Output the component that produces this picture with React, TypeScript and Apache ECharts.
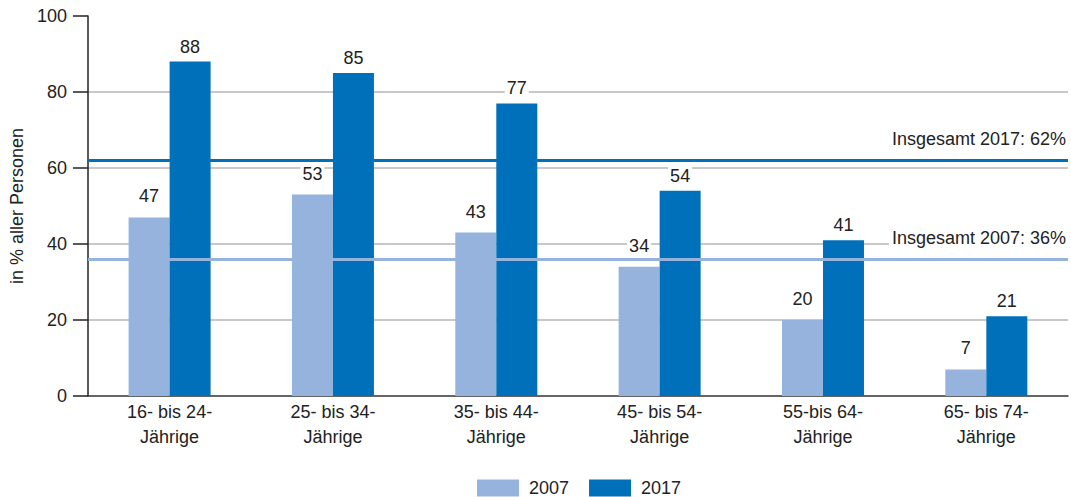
import React, { useEffect, useRef } from "react";
import * as echarts from "echarts";

const categories = [
  "16- bis 24-\nJährige",
  "25- bis 34-\nJährige",
  "35- bis 44-\nJährige",
  "45- bis 54-\nJährige",
  "55-bis 64-\nJährige",
  "65- bis 74-\nJährige",
];
const values2007 = [47, 53, 43, 34, 20, 7];
const values2017 = [88, 85, 77, 54, 41, 21];
const total2007 = 36;
const total2017 = 62;

const LIGHT = "#95b3dc";
const DARK = "#0070ba";
const TEXT = "#222";
const FONT = "'Liberation Sans', Arial, Helvetica, sans-serif";

export default function App() {
  const ref = useRef<HTMLDivElement>(null);
  useEffect(() => {
    if (!ref.current) return;
    const chart = echarts.init(ref.current, null, { renderer: "svg" });
    const refLabel = (text: string) => ({
      show: true,
      position: "insideEndTop",
      formatter: text,
      fontSize: 18,
      color: TEXT,
      fontFamily: FONT,
      backgroundColor: "#fff",
      padding: [1, 2, 1, 3],
      distance: [0, 11],
    });
    chart.setOption({
      animation: false,
      textStyle: { fontFamily: FONT, color: TEXT },
      grid: { left: 85, right: 3, top: 16, bottom: 101, containLabel: false },
      legend: {
        data: ["2007", "2017"],
        top: 479,
        left: 477,
        padding: 0,
        itemWidth: 42,
        itemHeight: 17,
        itemGap: 20,
        icon: "rect",
        textStyle: { fontSize: 18, color: TEXT, fontFamily: FONT, padding: [0, 0, 0, 5] },
      },
      xAxis: {
        type: "category",
        data: categories,
        axisLine: { show: true, lineStyle: { color: "#333", width: 1.5 } },
        axisTick: { show: false },
        axisLabel: { fontSize: 18, color: TEXT, lineHeight: 25, margin: 3, interval: 0 },
      },
      yAxis: {
        type: "value",
        min: 0,
        max: 100,
        interval: 20,
        name: "in % aller Personen",
        nameLocation: "middle",
        nameGap: 58,
        nameTextStyle: { fontSize: 18, color: TEXT },
        axisLine: { show: true, lineStyle: { color: "#222", width: 1.5 } },
        axisTick: { show: true, length: 15, lineStyle: { color: "#222", width: 1.5 } },
        axisLabel: { fontSize: 18, color: TEXT, margin: 21 },
        splitLine: {
          show: true,
          showMinLine: false,
          showMaxLine: false,
          lineStyle: { color: "#c8c8c8", width: 2 },
        },
      },
      series: [
        {
          name: "2007",
          type: "bar",
          data: values2007,
          barWidth: 41,
          barGap: "0%",
          itemStyle: { color: LIGHT },
          label: {
            show: true,
            position: "top",
            distance: 12,
            fontSize: 18,
            color: TEXT,
            backgroundColor: "#fff",
            padding: [0, 2],
          },
        },
        {
          name: "2017",
          type: "bar",
          data: values2017,
          barWidth: 41,
          barGap: "0%",
          itemStyle: { color: DARK },
          label: {
            show: true,
            position: "top",
            distance: 6,
            fontSize: 18,
            color: TEXT,
            backgroundColor: "#fff",
            padding: [0, 2],
          },
          markLine: {
            silent: true,
            symbol: "none",
            animation: false,
            data: [
              {
                yAxis: total2007,
                lineStyle: { color: LIGHT, width: 3, type: "solid" },
                label: refLabel("Insgesamt 2007: 36%"),
              },
              {
                yAxis: total2017,
                lineStyle: { color: DARK, width: 3, type: "solid" },
                label: refLabel("Insgesamt 2017: 62%"),
              },
            ],
          },
        },
      ],
    });
    return () => chart.dispose();
  }, []);
  return <div ref={ref} style={{ width: 1071, height: 497, position: "absolute", left: 0, top: 0 }} />;
}
